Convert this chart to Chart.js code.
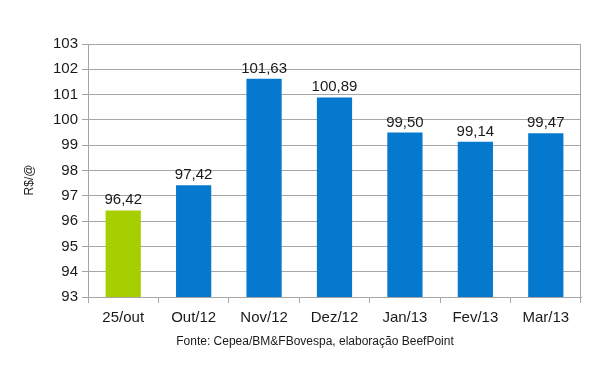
<!DOCTYPE html>
<html>
<head>
<meta charset="utf-8">
<script src="https://cdn.jsdelivr.net/npm/chart.js@4"></script>
<style>
html,body{margin:0;padding:0;background:#fff;}
#wrap{width:606px;height:370px;position:relative;}
</style>
</head>
<body>
<div id="wrap"><canvas id="c" width="606" height="370"></canvas></div>
<script>
const categories = ['25/out', 'Out/12', 'Nov/12', 'Dez/12', 'Jan/13', 'Fev/13', 'Mar/13'];
const values = [96.42, 97.42, 101.63, 100.89, 99.50, 99.14, 99.47];
const valueLabels = ['96,42', '97,42', '101,63', '100,89', '99,50', '99,14', '99,47'];
const yTicks = [93, 94, 95, 96, 97, 98, 99, 100, 101, 102, 103];
const yTitle = 'R$/@';
const caption = 'Fonte: Cepea/BM&FBovespa, elaboração BeefPoint';

const GREEN = '#A6CE00';
const BLUE = '#0479CD';
const FONT = '"Liberation Sans", Arial, sans-serif';

const extras = {
  id: 'extras',
  afterDatasetsDraw(chart) {
    const ctx = chart.ctx;
    const a = chart.chartArea;
    ctx.save();
    ctx.strokeStyle = '#A6A6A6';
    ctx.lineWidth = 1;
    ctx.beginPath();
    ctx.moveTo(a.left, a.top + 0.5);
    ctx.lineTo(a.right - 0.5, a.top + 0.5);
    ctx.lineTo(a.right - 0.5, a.bottom);
    ctx.stroke();
    const meta = chart.getDatasetMeta(0);
    ctx.fillStyle = '#1a1a1a';
    ctx.font = '15px ' + FONT;
    ctx.textAlign = 'center';
    ctx.textBaseline = 'alphabetic';
    meta.data.forEach((bar, i) => {
      ctx.fillText(valueLabels[i], bar.x, bar.y - 6);
    });
    ctx.font = '12px ' + FONT;
    ctx.translate(30, 180);
    ctx.rotate(-Math.PI / 2);
    ctx.textBaseline = 'middle';
    ctx.fillText(yTitle, 0, 0);
    ctx.restore();
    ctx.save();
    ctx.fillStyle = '#1a1a1a';
    ctx.font = '12px ' + FONT;
    ctx.textAlign = 'center';
    ctx.textBaseline = 'middle';
    ctx.fillText(caption, 315, 342);
    ctx.restore();
  }
};

new Chart(document.getElementById('c'), {
  type: 'bar',
  data: {
    labels: categories,
    datasets: [{
      data: values,
      backgroundColor: values.map((v, i) => i === 0 ? GREEN : BLUE),
      borderWidth: 0,
      barPercentage: 0.5,
      categoryPercentage: 1.0
    }]
  },
  options: {
    responsive: false,
    animation: false,
    devicePixelRatio: 1,
    layout: { padding: { top: 44, right: 25, left: 0, bottom: 0 } },
    plugins: { legend: { display: false }, tooltip: { enabled: false }, title: { display: false } },
    scales: {
      x: {
        offset: true,
        grid: { display: true, drawOnChartArea: false, drawTicks: true, tickLength: 6, color: '#A6A6A6', offset: true },
        border: { display: true, color: '#A6A6A6' },
        ticks: { color: '#1a1a1a', font: { family: FONT, size: 15 }, padding: 6, maxRotation: 0 },
        afterFit(s) { s.height = 73; }
      },
      y: {
        min: 93, max: 103,
        afterBuildTicks(s) { s.ticks = yTicks.map(v => ({ value: v })); },
        grid: { color: '#A6A6A6', tickLength: 6, drawTicks: true },
        border: { display: true, color: '#A6A6A6' },
        ticks: { color: '#1a1a1a', font: { family: FONT, size: 15 }, padding: 4, callback: v => String(v) },
        afterFit(s) { s.width = 88; }
      }
    }
  },
  plugins: [extras]
});
</script>
</body>
</html>
